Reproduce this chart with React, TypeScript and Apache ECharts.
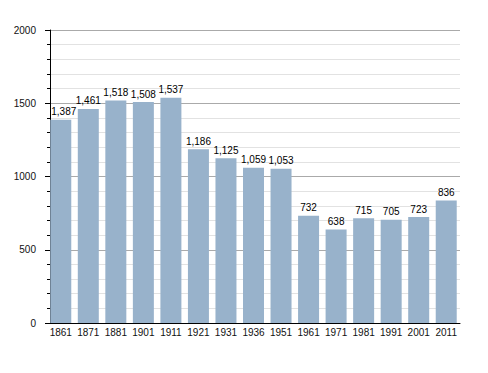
import React, { useEffect, useRef } from "react";
import * as echarts from "echarts";

const years = ["1861", "1871", "1881", "1901", "1911", "1921", "1931", "1936", "1951", "1961", "1971", "1981", "1991", "2001", "2011"];
const population = [1387, 1461, 1518, 1508, 1537, 1186, 1125, 1059, 1053, 732, 638, 715, 705, 723, 836];

export default function App() {
  const ref = useRef<HTMLDivElement>(null);
  useEffect(() => {
    const chart = echarts.init(ref.current!, null, { renderer: "svg" });
    const font = "Liberation Sans, Arial, Helvetica, sans-serif";
    const barData = population.map((v, i) =>
      i === 0 ? { value: v, label: { offset: [3, 0] } } : v
    );
    chart.setOption({
      animation: false,
      grid: { left: 47, right: 28, top: 30, bottom: 50 },
      xAxis: {
        type: "category",
        data: years,
        axisLine: { lineStyle: { color: "#000", width: 1 } },
        axisTick: { show: false },
        axisLabel: { color: "#111", fontSize: 10, fontFamily: font, margin: 4, interval: 0 },
      },
      yAxis: {
        type: "value",
        min: 0,
        max: 2000,
        interval: 500,
        offset: -3,
        axisLine: { show: true, lineStyle: { color: "#000", width: 1 } },
        axisTick: { show: true, length: 5, lineStyle: { color: "#000" } },
        minorTick: { show: true, splitNumber: 5, length: 3, lineStyle: { color: "#000" } },
        splitLine: { show: true, lineStyle: { color: "#aaa", width: 1 } },
        minorSplitLine: { show: true, lineStyle: { color: "#e2e2e2", width: 1 } },
        axisLabel: { color: "#111", fontSize: 10, fontFamily: font, margin: 14, formatter: (v: number) => String(v) },
      },
      series: [
        {
          type: "bar",
          data: barData,
          barWidth: 21,
          itemStyle: { color: "#98b2cb" },
          label: {
            show: true,
            position: "top",
            distance: 3,
            color: "#000",
            fontSize: 10,
            fontFamily: font,
            formatter: (p: any) => Number(p.value).toLocaleString("en-US"),
          },
        },
      ],
    });
    return () => chart.dispose();
  }, []);
  return <div ref={ref} style={{ width: 488, height: 373, position: "absolute", left: 0, top: 0, background: "#fff" }} />;
}
